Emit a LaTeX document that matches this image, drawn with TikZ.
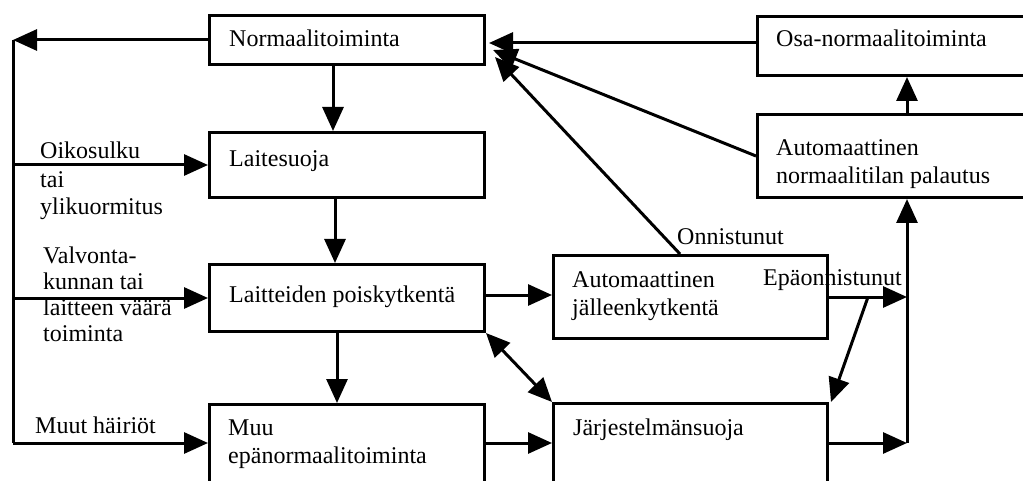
\documentclass[tikz,border=0pt]{standalone}
\usepackage{fontspec}
\setmainfont{Liberation Serif}
\usetikzlibrary{arrows.meta,calc}
\begin{document}
\begin{tikzpicture}[x=1pt,y=-1pt,
  box/.style={draw, line width=3pt, rectangle, anchor=north west, inner sep=0pt},
  lbl/.style={anchor=base west, inner sep=0pt, font=\fontsize{24}{28}\selectfont, align=left},
  tip/.tip={Triangle[length=24pt,width=21pt]},
  arr/.style={line width=3pt, -tip},
  ln/.style={line width=3pt}]
\useasboundingbox (0,0) rectangle (1023,481);
\clip (0,0) rectangle (1023,481);
\fill[white] (0,0) rectangle (1023,481);

% boxes
\node[box, minimum width=275pt, minimum height=49pt] (N) at (208,14) {};
\node[box, minimum width=275pt, minimum height=65pt] (LS) at (208,131) {};
\node[box, minimum width=275pt, minimum height=67pt] (LP) at (208,263) {};
\node[box, minimum width=275pt, minimum height=100pt] (MU) at (208,403) {};
\node[box, minimum width=274pt, minimum height=83pt] (AJ) at (552,254) {};
\node[box, minimum width=274pt, minimum height=100pt] (JS) at (552,402) {};
\node[box, minimum width=300pt, minimum height=59pt] (OS) at (756,15) {};
\node[box, minimum width=300pt, minimum height=83pt] (AN) at (756,113) {};

% box texts (base anchor = baseline of the last line)
\node[lbl] (tN) at (229,47) {Normaalitoiminta};
\node[lbl] (tLS) at (229,167) {Laitesuoja};
\node[lbl] (tLP) at (229,302) {Laitteiden poiskytkentä};
\node[lbl] (tMU) at (228,463) {Muu\\epänormaalitoiminta};
\node[lbl] (tAJ) at (572,315) {Automaattinen\\jälleenkytkentä};
\node[lbl] (tJS) at (573,435) {Järjestelmänsuoja};
\node[lbl] (tOS) at (776,47) {Osa-normaalitoiminta};
\node[lbl] (tAN) at (776,184) {Automaattinen\\normaalitilan palautus};

% free labels
\node[lbl] (lO) at (40,215) {Oikosulku\\tai\\ylikuormitus};
\node[lbl, font=\fontsize{24}{26}\selectfont] (lV) at (43,341) {Valvonta-\\kunnan tai\\laitteen väärä\\toiminta};
\node[lbl] (lM) at (35,433) {Muut häiriöt};
\node[lbl] (lOn) at (677,244) {Onnistunut};
\node[lbl] (lEp) at (763,285) {Epäonnistunut};

% left bus
\coordinate (c1) at (13,0 |- N.west);
\coordinate (c2) at (13,165);
\coordinate (c3) at (13,298);
\coordinate (c4) at (13,443);
\draw[arr] (N.west) -- (c1);
\draw[ln] (c1) -- (c4);
\draw[arr] (c2) -- (c2 -| LS.west);
\draw[arr] (c3) -- (c3 -| LP.west);
\draw[arr] (c4) -- (c4 -| MU.west);

% main column
\draw[arr] (333,0 |- N.south) -- (333,0 |- LS.north);
\draw[arr] (335,0 |- LS.south) -- (335,0 |- LP.north);
\draw[arr] (337,0 |- LP.south) -- (337,0 |- MU.north);
\draw[arr] (LP.east |- 0,295) -- (AJ.west |- 0,295);
\draw[arr] (MU.east |- 0,443) -- (JS.west |- 0,443);
\draw[line width=3pt, tip-tip] (LP.south east) -- (JS.north west);

% returns to Normaalitoiminta
\draw[arr] (OS.west |- 0,43) -- ($(N.east |- 0,43)+(3,0)$);
\draw[arr] (AN.west) -- ($(N.east)+(7,10)$);
\draw[arr] (680,0 |- AJ.north) -- ($(N.east)+(9,17)$);

% right bus
\coordinate (vx) at (907,0);
\coordinate (ep) at (868,0 |- AJ.east);
\draw[arr] (AJ.east) -- (AJ.east -| vx);
\draw[arr] (ep) -- ($(JS.north east)+(2,0)$);
\draw[arr] (JS.east |- 0,443) -- (vx |- 0,443);
\draw[arr] (vx |- 0,443) -- (vx |- AN.south);
\draw[arr] (vx |- AN.north) -- (vx |- OS.south);
\end{tikzpicture}
\end{document}
